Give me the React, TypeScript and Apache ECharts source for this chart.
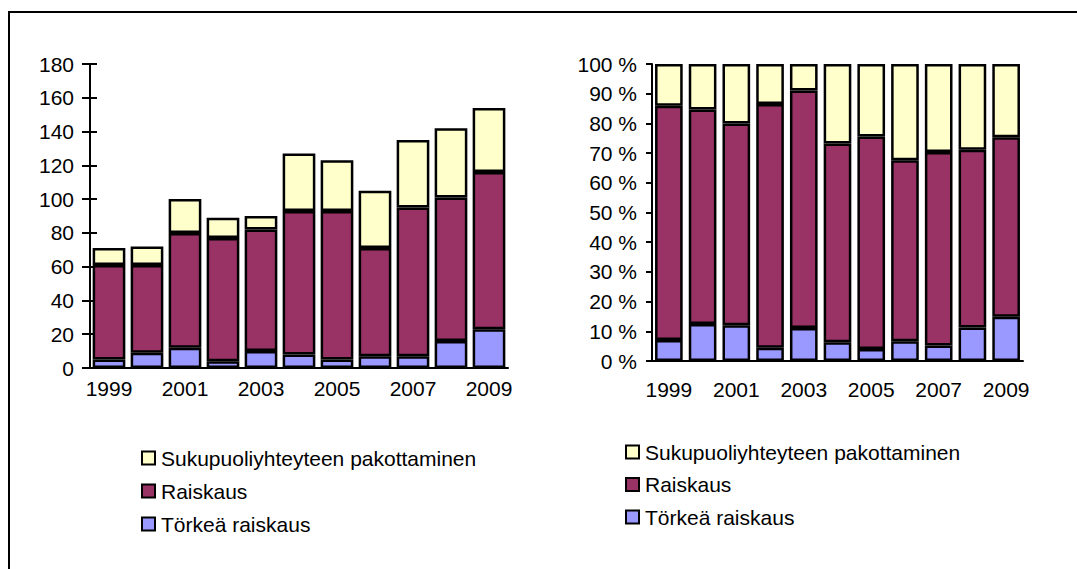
import React, { useEffect, useRef } from "react";
import * as echarts from "echarts";

const years = ["1999", "2000", "2001", "2002", "2003", "2004", "2005", "2006", "2007", "2008", "2009"];
const torkeaRaiskaus = [5, 9, 12, 4, 10, 8, 5, 7, 7, 16, 23];
const raiskaus = [56, 52, 68, 73, 72, 85, 88, 64, 88, 85, 93];
const pakottaminen = [10, 11, 20, 12, 8, 34, 30, 34, 40, 41, 38];
const seriesNames = ["Törkeä raiskaus", "Raiskaus", "Sukupuoliyhteyteen pakottaminen"];
const legendOrder = ["Sukupuoliyhteyteen pakottaminen", "Raiskaus", "Törkeä raiskaus"];
const colors = ["#9999FF", "#993366", "#FFFFCC"];

const FONT = "'Liberation Sans', Arial, sans-serif";

function legendGraphics(x: number, y0: number, step: number) {
  const els: any[] = [];
  legendOrder.forEach((name, i) => {
    const cy = y0 + i * step;
    const color = colors[seriesNames.indexOf(name)];
    els.push({
      type: "rect",
      silent: true,
      shape: { x, y: cy - 6.5, width: 13, height: 13 },
      style: { fill: color, stroke: "#000", lineWidth: 2 },
    });
    els.push({
      type: "text",
      silent: true,
      x: x + 19,
      y: cy,
      style: {
        text: name,
        fill: "#000",
        fontSize: 21,
        fontFamily: FONT,
        verticalAlign: "middle",
        align: "left",
      },
    });
  });
  return els;
}

export default function App() {
  const ref = useRef<HTMLDivElement>(null);
  useEffect(() => {
    if (!ref.current) return;
    const chart = echarts.init(ref.current, undefined, { renderer: "svg" });
    const totals = years.map((_, i) => torkeaRaiskaus[i] + raiskaus[i] + pakottaminen[i]);
    const raw = [torkeaRaiskaus, raiskaus, pakottaminen];
    const pct = raw.map((arr) => arr.map((v, i) => (v / totals[i]) * 100));

    const axisLineStyle = { color: "#000", width: 2 };
    const labelStyle = { color: "#000", fontSize: 21, fontFamily: FONT };
    const barBorder = { borderColor: "#000", borderWidth: 2.5 };

    const series: any[] = [];
    raw.forEach((arr, k) => {
      series.push({
        type: "bar",
        name: seriesNames[k],
        stack: "abs",
        xAxisIndex: 0,
        yAxisIndex: 0,
        data: arr,
        barCategoryGap: "14%",
        itemStyle: { color: colors[k], ...barBorder },
      });
    });
    pct.forEach((arr, k) => {
      series.push({
        type: "bar",
        name: seriesNames[k],
        stack: "pct",
        xAxisIndex: 1,
        yAxisIndex: 1,
        data: arr,
        barCategoryGap: "18%",
        itemStyle: { color: colors[k], ...barBorder },
      });
    });

    chart.setOption({
      animation: false,
      backgroundColor: "#fff",
      textStyle: { fontFamily: FONT },
      graphic: [
        {
          type: "rect",
          silent: true,
          shape: { x: 9, y: 12, width: 2000, height: 2000 },
          style: { fill: "none", stroke: "#000", lineWidth: 2 },
        },
        ...legendGraphics(142, 458, 33),
        ...legendGraphics(626, 452, 32.5),
      ],
      grid: [
        { left: 90, right: 569, top: 64, bottom: 201 },
        { left: 652, right: 54, top: 64, bottom: 208 },
      ],
      xAxis: [
        {
          type: "category",
          gridIndex: 0,
          data: years,
          axisLine: { lineStyle: axisLineStyle },
          axisTick: { show: false },
          axisLabel: { ...labelStyle, interval: 1, margin: 10 },
        },
        {
          type: "category",
          gridIndex: 1,
          data: years,
          axisLine: { lineStyle: axisLineStyle },
          axisTick: { show: false },
          axisLabel: { ...labelStyle, interval: 1, margin: 18 },
        },
      ],
      yAxis: [
        {
          type: "value",
          gridIndex: 0,
          min: 0,
          max: 180,
          interval: 20,
          axisLine: { show: true, lineStyle: axisLineStyle },
          axisTick: { show: true, length: 8, lineStyle: axisLineStyle },
          splitLine: { show: false },
          axisLabel: { ...labelStyle, margin: 16 },
        },
        {
          type: "value",
          gridIndex: 1,
          min: 0,
          max: 100,
          interval: 10,
          axisLine: { show: true, lineStyle: axisLineStyle },
          axisTick: { show: true, length: 6, lineStyle: axisLineStyle },
          splitLine: { show: false },
          axisLabel: { ...labelStyle, margin: 15, formatter: (v: number) => `${v} %` },
        },
        {
          // helper axis for the inner half of the left chart's cross ticks
          type: "value",
          gridIndex: 0,
          position: "right",
          offset: -418,
          min: 0,
          max: 180,
          interval: 20,
          axisLine: { show: false },
          axisTick: { show: true, inside: false, length: 7, lineStyle: axisLineStyle },
          splitLine: { show: false },
          axisLabel: { show: false },
        },
      ],
      series,
    });
    return () => chart.dispose();
  }, []);
  return (
    <div
      ref={ref}
      style={{ position: "fixed", left: 0, top: 0, width: 1077, height: 569 }}
    />
  );
}
